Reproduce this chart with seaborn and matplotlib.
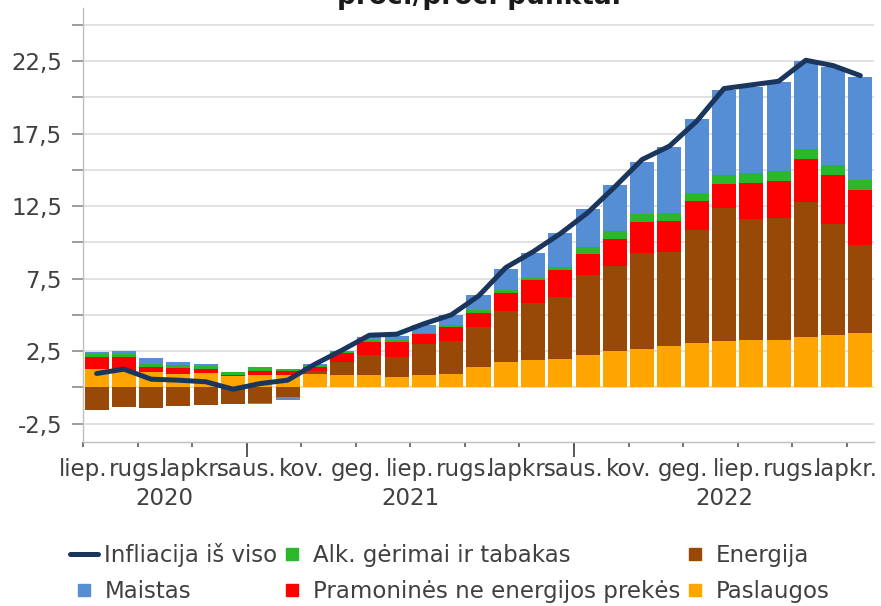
import matplotlib

matplotlib.use("Agg")

import matplotlib.pyplot as plt
import numpy as np
import seaborn as sns
from matplotlib.lines import Line2D

# monthly contributions, liep. 2020 - lapkr. 2022
month_labels = ["liep.", "rugs.", "lapkr.", "saus.", "kov.", "geg.",
                "liep.", "rugs.", "lapkr.", "saus.", "kov.", "geg.",
                "liep.", "rugs.", "lapkr."]
years = ["2020", "2021", "2022"]

paslaugos = [1.26, 1.10, 1.07, 0.94, 0.98, 0.82, 0.87, 0.89, 0.92, 0.85,
             0.85, 0.69, 0.85, 0.94, 1.42, 1.76, 1.88, 1.95, 2.24, 2.48,
             2.64, 2.86, 3.05, 3.23, 3.26, 3.28, 3.46, 3.60, 3.74]
energija = [-1.54, -1.36, -1.45, -1.27, -1.22, -1.13, -1.10, -0.69, 0.22, 0.87,
            1.39, 1.42, 2.13, 2.29, 2.75, 3.51, 3.97, 4.26, 5.49, 5.87,
            6.65, 6.50, 7.80, 9.16, 8.37, 8.42, 9.34, 7.69, 6.07]
pramonines = [0.84, 1.00, 0.35, 0.39, 0.26, 0.03, 0.25, 0.21, 0.28, 0.62,
              0.86, 1.03, 0.67, 0.92, 0.99, 1.27, 1.53, 1.90, 1.49, 1.88,
              2.11, 2.11, 1.97, 1.62, 2.48, 2.52, 2.91, 3.34, 3.79]
alk = [0.19, 0.20, 0.21, 0.23, 0.27, 0.20, 0.26, 0.18, 0.16, 0.11,
       0.16, 0.14, 0.13, 0.16, 0.16, 0.20, 0.16, 0.19, 0.48, 0.55,
       0.53, 0.57, 0.60, 0.65, 0.64, 0.67, 0.69, 0.72, 0.71]
maistas = [0.16, 0.22, 0.37, 0.16, 0.09, 0.02, -0.07, -0.16, 0.02, 0.05,
           0.22, 0.27, 0.51, 0.69, 1.04, 1.40, 1.75, 2.34, 2.57, 3.14,
           3.62, 4.52, 5.05, 5.87, 5.96, 6.15, 6.08, 6.74, 7.09]
infliacija = [0.96, 1.26, 0.57, 0.50, 0.39, -0.12, 0.27, 0.50, 1.60, 2.57,
              3.60, 3.67, 4.39, 5.00, 6.30, 8.26, 9.35, 10.60, 12.04, 13.83,
              15.71, 16.63, 18.35, 20.60, 20.85, 21.10, 22.55, 22.18, 21.49]

sns.set_theme(style="white")
plt.rcParams["font.family"] = ["DejaVu Sans"]

TEXT = "#404040"
FS = 16.5

fig = plt.figure(figsize=(8.81, 6.06), dpi=100)
ax = fig.add_axes([83 / 881, 1 - 442 / 606, (874 - 83) / 881, (442 - 8) / 606])

x = np.arange(len(infliacija))
series = [
    ("Paslaugos", paslaugos, "#FFA500"),
    ("Energija", energija, "#984807"),
    ("Pramoninės ne energijos prekės", pramonines, "#FF0000"),
    ("Alk. gėrimai ir tabakas", alk, "#2AB82A"),
    ("Maistas", maistas, "#558ED5"),
]
pos = np.zeros(len(x))
neg = np.zeros(len(x))
for name, vals, color in series:
    v = np.array(vals)
    bottom = np.where(v >= 0, pos, neg)
    ax.bar(x, v, bottom=bottom, width=0.88, color=color, linewidth=0, zorder=2)
    pos += np.clip(v, 0, None)
    neg += np.clip(v, None, 0)

sns.lineplot(x=x, y=infliacija, ax=ax, color="#1B365D", linewidth=3.6, zorder=3)

ax.set_xlim(-0.5, 28.5)
ax.set_ylim(-3.76, 26.15)

yt = np.arange(-2.5, 25.1, 2.5)
ylab = [f"{t:.1f}".replace(".", ",") if i % 2 == 0 else "" for i, t in enumerate(yt)]
ax.set_yticks(yt, ylab)
ax.yaxis.grid(True, color="#D9D9D9", linewidth=1.1)
ax.set_axisbelow(True)
ax.tick_params(axis="y", left=True, length=7.6, width=1.2, color="#8C8C8C", pad=7.5,
               labelsize=FS, labelcolor=TEXT)

bounds = np.arange(-0.5, 28, 2)
ax.set_xticks(bounds, month_labels)
ax.tick_params(axis="x", bottom=True, length=3.5, width=1.2, color="#595959", pad=8,
               labelsize=FS, labelcolor=TEXT)

sec = ax.secondary_xaxis("bottom")
sec.set_xticks([5.5, 17.5], ["", ""])
sec.tick_params(length=11, width=1.4, color="#595959")
sec.spines["bottom"].set_visible(False)

yr = ax.secondary_xaxis("bottom")
yr.set_xticks([2.5, 11.5, 23], years)
yr.tick_params(length=0, pad=32.5, labelsize=FS, labelcolor=TEXT)
yr.spines["bottom"].set_visible(False)

for side in ["top", "right"]:
    ax.spines[side].set_visible(False)
for side in ["left", "bottom"]:
    ax.spines[side].set_color("#BFBFBF")
    ax.spines[side].set_linewidth(1.0)

handles = [
    Line2D([], [], color="#1B365D", linewidth=3.6),
    Line2D([], [], marker="s", linestyle="", markersize=9, color="#558ED5"),
    Line2D([], [], marker="s", linestyle="", markersize=9, color="#2AB82A"),
    Line2D([], [], marker="s", linestyle="", markersize=9, color="#FF0000"),
    Line2D([], [], marker="s", linestyle="", markersize=9, color="#984807"),
    Line2D([], [], marker="s", linestyle="", markersize=9, color="#FFA500"),
]
labels = ["Infliacija iš viso", "Maistas", "Alk. gėrimai ir tabakas",
          "Pramoninės ne energijos prekės", "Energija", "Paslaugos"]
fig.legend(handles, labels, ncol=3, loc="upper left", bbox_to_anchor=(70 / 881, 1 - 543 / 606),
           frameon=False, fontsize=FS, handlelength=1.2, handletextpad=0.3,
           columnspacing=0.05, labelspacing=0.55, borderpad=0, borderaxespad=0,
           labelcolor=TEXT)

fig.text(479 / 881, 1 - 4 / 606, "proc./proc. punktai", ha="center", va="baseline",
         fontsize=19, fontweight="bold", color="#1A1A1A")

fig.savefig("out.png", dpi=100)
